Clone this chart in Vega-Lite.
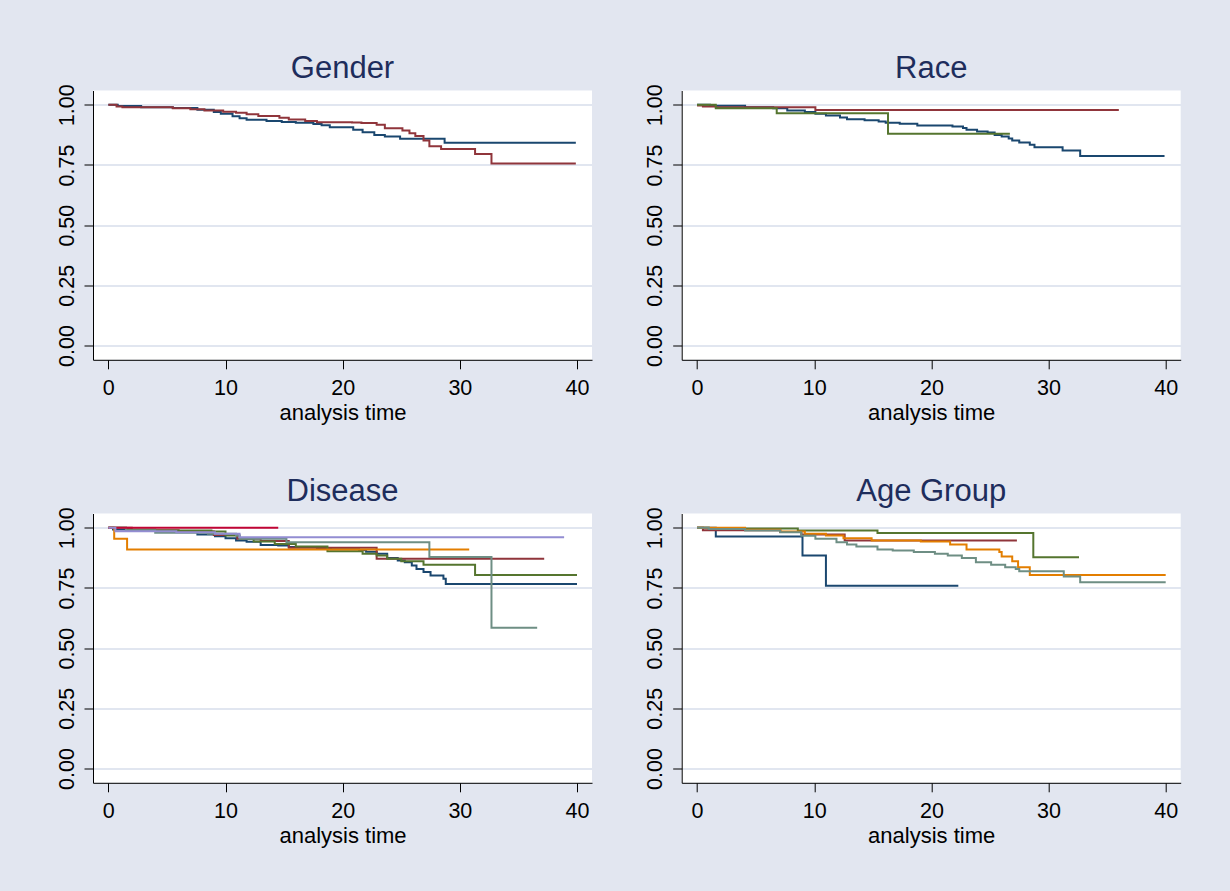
{
  "$schema": "https://vega.github.io/schema/vega-lite/v6.json",
  "background": "#e2e6f0",
  "padding": {"left": 56, "top": 52.5, "right": 55, "bottom": 58},
  "bounds": "flush",
  "columns": 2,
  "spacing": {"row": 153, "column": 89.7},
  "data": {"values": [
    {"p":"Gender","g":1,"t":0,"s":1},{"p":"Gender","g":1,"t":0.8,"s":0.995},{"p":"Gender","g":1,"t":2.8,"s":0.99},{"p":"Gender","g":1,"t":5.5,"s":0.987},{"p":"Gender","g":1,"t":7.6,"s":0.979},{"p":"Gender","g":1,"t":9.0,"s":0.97},{"p":"Gender","g":1,"t":9.6,"s":0.963},{"p":"Gender","g":1,"t":10.6,"s":0.952},{"p":"Gender","g":1,"t":11.2,"s":0.944},{"p":"Gender","g":1,"t":11.8,"s":0.938},{"p":"Gender","g":1,"t":13.5,"s":0.933},{"p":"Gender","g":1,"t":14.8,"s":0.929},{"p":"Gender","g":1,"t":16.0,"s":0.925},{"p":"Gender","g":1,"t":17.5,"s":0.92},{"p":"Gender","g":1,"t":18.2,"s":0.915},{"p":"Gender","g":1,"t":18.9,"s":0.907},{"p":"Gender","g":1,"t":20.9,"s":0.896},{"p":"Gender","g":1,"t":21.7,"s":0.886},{"p":"Gender","g":1,"t":22.7,"s":0.875},{"p":"Gender","g":1,"t":23.6,"s":0.868},{"p":"Gender","g":1,"t":24.9,"s":0.859},{"p":"Gender","g":1,"t":28.7,"s":0.842},{"p":"Gender","g":1,"t":39.9,"s":0.842},
    {"p":"Gender","g":2,"t":0,"s":1},{"p":"Gender","g":2,"t":0.7,"s":0.993},{"p":"Gender","g":2,"t":1.2,"s":0.99},{"p":"Gender","g":2,"t":5.5,"s":0.986},{"p":"Gender","g":2,"t":7.0,"s":0.982},{"p":"Gender","g":2,"t":8.2,"s":0.976},{"p":"Gender","g":2,"t":9.8,"s":0.971},{"p":"Gender","g":2,"t":10.9,"s":0.967},{"p":"Gender","g":2,"t":11.8,"s":0.961},{"p":"Gender","g":2,"t":12.8,"s":0.953},{"p":"Gender","g":2,"t":14.6,"s":0.946},{"p":"Gender","g":2,"t":15.4,"s":0.939},{"p":"Gender","g":2,"t":16.8,"s":0.933},{"p":"Gender","g":2,"t":17.8,"s":0.928},{"p":"Gender","g":2,"t":20.8,"s":0.926},{"p":"Gender","g":2,"t":21.6,"s":0.924},{"p":"Gender","g":2,"t":22.9,"s":0.917},{"p":"Gender","g":2,"t":23.6,"s":0.903},{"p":"Gender","g":2,"t":25.1,"s":0.893},{"p":"Gender","g":2,"t":25.7,"s":0.882},{"p":"Gender","g":2,"t":26.2,"s":0.87},{"p":"Gender","g":2,"t":26.9,"s":0.852},{"p":"Gender","g":2,"t":27.4,"s":0.828},{"p":"Gender","g":2,"t":28.4,"s":0.816},{"p":"Gender","g":2,"t":31.3,"s":0.796},{"p":"Gender","g":2,"t":32.7,"s":0.756},{"p":"Gender","g":2,"t":39.9,"s":0.756},
    {"p":"Race","g":1,"t":0,"s":1},{"p":"Race","g":1,"t":1.1,"s":0.996},{"p":"Race","g":1,"t":4.1,"s":0.99},{"p":"Race","g":1,"t":6.5,"s":0.986},{"p":"Race","g":1,"t":7.7,"s":0.976},{"p":"Race","g":1,"t":9.2,"s":0.97},{"p":"Race","g":1,"t":10.1,"s":0.963},{"p":"Race","g":1,"t":11.0,"s":0.956},{"p":"Race","g":1,"t":12.2,"s":0.947},{"p":"Race","g":1,"t":12.8,"s":0.94},{"p":"Race","g":1,"t":14.3,"s":0.936},{"p":"Race","g":1,"t":15.5,"s":0.931},{"p":"Race","g":1,"t":16.1,"s":0.925},{"p":"Race","g":1,"t":17.3,"s":0.921},{"p":"Race","g":1,"t":18.8,"s":0.914},{"p":"Race","g":1,"t":21.8,"s":0.91},{"p":"Race","g":1,"t":22.7,"s":0.904},{"p":"Race","g":1,"t":23.0,"s":0.896},{"p":"Race","g":1,"t":23.9,"s":0.889},{"p":"Race","g":1,"t":24.8,"s":0.885},{"p":"Race","g":1,"t":25.4,"s":0.875},{"p":"Race","g":1,"t":26.0,"s":0.868},{"p":"Race","g":1,"t":26.6,"s":0.86},{"p":"Race","g":1,"t":26.9,"s":0.852},{"p":"Race","g":1,"t":27.5,"s":0.843},{"p":"Race","g":1,"t":28.4,"s":0.834},{"p":"Race","g":1,"t":28.8,"s":0.824},{"p":"Race","g":1,"t":31.2,"s":0.81},{"p":"Race","g":1,"t":32.7,"s":0.787},{"p":"Race","g":1,"t":39.9,"s":0.787},
    {"p":"Race","g":2,"t":0,"s":0.997},{"p":"Race","g":2,"t":0.5,"s":0.993},{"p":"Race","g":2,"t":1.6,"s":0.99},{"p":"Race","g":2,"t":10.1,"s":0.978},{"p":"Race","g":2,"t":36.0,"s":0.978},
    {"p":"Race","g":3,"t":0,"s":1},{"p":"Race","g":3,"t":1.6,"s":0.986},{"p":"Race","g":3,"t":6.8,"s":0.965},{"p":"Race","g":3,"t":16.3,"s":0.88},{"p":"Race","g":3,"t":26.7,"s":0.88},
    {"p":"Disease","g":1,"t":0,"s":1},{"p":"Disease","g":1,"t":0.4,"s":0.993},{"p":"Disease","g":1,"t":1.9,"s":0.987},{"p":"Disease","g":1,"t":5.2,"s":0.985},{"p":"Disease","g":1,"t":7.6,"s":0.972},{"p":"Disease","g":1,"t":9.1,"s":0.965},{"p":"Disease","g":1,"t":10.0,"s":0.957},{"p":"Disease","g":1,"t":10.9,"s":0.947},{"p":"Disease","g":1,"t":11.8,"s":0.942},{"p":"Disease","g":1,"t":13.0,"s":0.929},{"p":"Disease","g":1,"t":14.5,"s":0.926},{"p":"Disease","g":1,"t":15.4,"s":0.92},{"p":"Disease","g":1,"t":17.8,"s":0.915},{"p":"Disease","g":1,"t":19.0,"s":0.911},{"p":"Disease","g":1,"t":21.4,"s":0.907},{"p":"Disease","g":1,"t":22.0,"s":0.9},{"p":"Disease","g":1,"t":22.9,"s":0.892},{"p":"Disease","g":1,"t":23.8,"s":0.875},{"p":"Disease","g":1,"t":24.7,"s":0.864},{"p":"Disease","g":1,"t":25.3,"s":0.857},{"p":"Disease","g":1,"t":25.9,"s":0.843},{"p":"Disease","g":1,"t":26.3,"s":0.829},{"p":"Disease","g":1,"t":26.9,"s":0.816},{"p":"Disease","g":1,"t":27.5,"s":0.802},{"p":"Disease","g":1,"t":28.6,"s":0.788},{"p":"Disease","g":1,"t":28.8,"s":0.767},{"p":"Disease","g":1,"t":40.0,"s":0.767},
    {"p":"Disease","g":2,"t":0,"s":1},{"p":"Disease","g":2,"t":2,"s":0.99},{"p":"Disease","g":2,"t":6,"s":0.985},{"p":"Disease","g":2,"t":9,"s":0.97},{"p":"Disease","g":2,"t":11,"s":0.955},{"p":"Disease","g":2,"t":13,"s":0.945},{"p":"Disease","g":2,"t":15.4,"s":0.917},{"p":"Disease","g":2,"t":22.9,"s":0.871},{"p":"Disease","g":2,"t":37.2,"s":0.871},
    {"p":"Disease","g":3,"t":0,"s":1},{"p":"Disease","g":3,"t":1.5,"s":0.993},{"p":"Disease","g":3,"t":4,"s":0.989},{"p":"Disease","g":3,"t":8.8,"s":0.985},{"p":"Disease","g":3,"t":10,"s":0.968},{"p":"Disease","g":3,"t":11.2,"s":0.954},{"p":"Disease","g":3,"t":12.4,"s":0.943},{"p":"Disease","g":3,"t":14.2,"s":0.933},{"p":"Disease","g":3,"t":16,"s":0.922},{"p":"Disease","g":3,"t":18.7,"s":0.903},{"p":"Disease","g":3,"t":21.7,"s":0.892},{"p":"Disease","g":3,"t":22.9,"s":0.885},{"p":"Disease","g":3,"t":23.8,"s":0.871},{"p":"Disease","g":3,"t":25,"s":0.861},{"p":"Disease","g":3,"t":26.9,"s":0.846},{"p":"Disease","g":3,"t":31.3,"s":0.804},{"p":"Disease","g":3,"t":40,"s":0.804},
    {"p":"Disease","g":4,"t":0,"s":1},{"p":"Disease","g":4,"t":0.5,"s":0.954},{"p":"Disease","g":4,"t":1.6,"s":0.91},{"p":"Disease","g":4,"t":30.8,"s":0.91},
    {"p":"Disease","g":5,"t":0,"s":1},{"p":"Disease","g":5,"t":1.5,"s":0.99},{"p":"Disease","g":5,"t":4,"s":0.979},{"p":"Disease","g":5,"t":8.5,"s":0.975},{"p":"Disease","g":5,"t":10.9,"s":0.968},{"p":"Disease","g":5,"t":11.2,"s":0.954},{"p":"Disease","g":5,"t":15.2,"s":0.94},{"p":"Disease","g":5,"t":27.4,"s":0.879},{"p":"Disease","g":5,"t":32.7,"s":0.585},{"p":"Disease","g":5,"t":36.6,"s":0.585},
    {"p":"Disease","g":6,"t":0,"s":1},{"p":"Disease","g":6,"t":14.5,"s":1},
    {"p":"Disease","g":7,"t":0,"s":1},{"p":"Disease","g":7,"t":0.6,"s":0.986},{"p":"Disease","g":7,"t":5.8,"s":0.981},{"p":"Disease","g":7,"t":9.1,"s":0.975},{"p":"Disease","g":7,"t":11.2,"s":0.961},{"p":"Disease","g":7,"t":38.9,"s":0.961},
    {"p":"Age Group","g":1,"t":0,"s":1},{"p":"Age Group","g":1,"t":1.6,"s":0.964},{"p":"Age Group","g":1,"t":9.0,"s":0.885},{"p":"Age Group","g":1,"t":11.0,"s":0.759},{"p":"Age Group","g":1,"t":22.3,"s":0.759},
    {"p":"Age Group","g":2,"t":0,"s":1},{"p":"Age Group","g":2,"t":0.5,"s":0.99},{"p":"Age Group","g":2,"t":7.1,"s":0.983},{"p":"Age Group","g":2,"t":8.9,"s":0.972},{"p":"Age Group","g":2,"t":12.6,"s":0.947},{"p":"Age Group","g":2,"t":27.3,"s":0.947},
    {"p":"Age Group","g":3,"t":0,"s":1},{"p":"Age Group","g":3,"t":1.0,"s":0.997},{"p":"Age Group","g":3,"t":8.6,"s":0.989},{"p":"Age Group","g":3,"t":15.4,"s":0.978},{"p":"Age Group","g":3,"t":28.7,"s":0.878},{"p":"Age Group","g":3,"t":32.6,"s":0.878},
    {"p":"Age Group","g":4,"t":0,"s":1},{"p":"Age Group","g":4,"t":4.1,"s":0.992},{"p":"Age Group","g":4,"t":7.1,"s":0.985},{"p":"Age Group","g":4,"t":9.2,"s":0.975},{"p":"Age Group","g":4,"t":11,"s":0.968},{"p":"Age Group","g":4,"t":12.5,"s":0.957},{"p":"Age Group","g":4,"t":14.9,"s":0.947},{"p":"Age Group","g":4,"t":19.1,"s":0.943},{"p":"Age Group","g":4,"t":21.6,"s":0.931},{"p":"Age Group","g":4,"t":23,"s":0.91},{"p":"Age Group","g":4,"t":25.8,"s":0.899},{"p":"Age Group","g":4,"t":26,"s":0.881},{"p":"Age Group","g":4,"t":26.9,"s":0.861},{"p":"Age Group","g":4,"t":27.4,"s":0.836},{"p":"Age Group","g":4,"t":28.4,"s":0.804},{"p":"Age Group","g":4,"t":40,"s":0.804},
    {"p":"Age Group","g":5,"t":0,"s":1},{"p":"Age Group","g":5,"t":1,"s":0.995},{"p":"Age Group","g":5,"t":4.1,"s":0.989},{"p":"Age Group","g":5,"t":7.1,"s":0.981},{"p":"Age Group","g":5,"t":8.9,"s":0.967},{"p":"Age Group","g":5,"t":10.1,"s":0.954},{"p":"Age Group","g":5,"t":11.9,"s":0.94},{"p":"Age Group","g":5,"t":12.8,"s":0.931},{"p":"Age Group","g":5,"t":13.6,"s":0.922},{"p":"Age Group","g":5,"t":15.4,"s":0.91},{"p":"Age Group","g":5,"t":16.7,"s":0.906},{"p":"Age Group","g":5,"t":18.5,"s":0.899},{"p":"Age Group","g":5,"t":20.3,"s":0.892},{"p":"Age Group","g":5,"t":21.4,"s":0.885},{"p":"Age Group","g":5,"t":22.6,"s":0.875},{"p":"Age Group","g":5,"t":23.8,"s":0.857},{"p":"Age Group","g":5,"t":25.1,"s":0.846},{"p":"Age Group","g":5,"t":26.3,"s":0.836},{"p":"Age Group","g":5,"t":27.2,"s":0.829},{"p":"Age Group","g":5,"t":27.5,"s":0.82},{"p":"Age Group","g":5,"t":31.3,"s":0.798},{"p":"Age Group","g":5,"t":32.7,"s":0.774},{"p":"Age Group","g":5,"t":40,"s":0.774}
  ]},
  "concat": [
    {"title": "Gender", "width": 499, "height": 269.3, "transform": [{"filter": "datum.p == 'Gender'"}],
     "mark": {"type": "line", "interpolate": "step-after", "strokeWidth": 2, "clip": true},
     "encoding": {
       "x": {"field": "t", "type": "quantitative", "scale": {"domain": [-1.31, 41.28], "nice": false, "zero": false}, "axis": {"values": [0,10,20,30,40], "title": "analysis time"}},
       "y": {"field": "s", "type": "quantitative", "scale": {"domain": [-0.0594, 1.0594], "nice": false, "zero": false}, "axis": {"values": [0,0.25,0.5,0.75,1], "format": ".2f", "title": null}},
       "color": {"field": "g", "type": "nominal", "scale": {"domain": [1,2,3,4,5,6,7], "range": ["#1a476f","#90353b","#55752f","#e37e00","#6e8e84","#c10534","#938dd2"]}, "legend": null}
     }},
    {"title": "Race", "width": 499, "height": 269.3, "transform": [{"filter": "datum.p == 'Race'"}],
     "mark": {"type": "line", "interpolate": "step-after", "strokeWidth": 2, "clip": true},
     "encoding": {
       "x": {"field": "t", "type": "quantitative", "scale": {"domain": [-1.31, 41.28], "nice": false, "zero": false}, "axis": {"values": [0,10,20,30,40], "title": "analysis time"}},
       "y": {"field": "s", "type": "quantitative", "scale": {"domain": [-0.0594, 1.0594], "nice": false, "zero": false}, "axis": {"values": [0,0.25,0.5,0.75,1], "format": ".2f", "title": null}},
       "color": {"field": "g", "type": "nominal", "scale": {"domain": [1,2,3,4,5,6,7], "range": ["#1a476f","#90353b","#55752f","#e37e00","#6e8e84","#c10534","#938dd2"]}, "legend": null}
     }},
    {"title": "Disease", "width": 499, "height": 269.3, "transform": [{"filter": "datum.p == 'Disease'"}],
     "mark": {"type": "line", "interpolate": "step-after", "strokeWidth": 2, "clip": true},
     "encoding": {
       "x": {"field": "t", "type": "quantitative", "scale": {"domain": [-1.31, 41.28], "nice": false, "zero": false}, "axis": {"values": [0,10,20,30,40], "title": "analysis time"}},
       "y": {"field": "s", "type": "quantitative", "scale": {"domain": [-0.0594, 1.0594], "nice": false, "zero": false}, "axis": {"values": [0,0.25,0.5,0.75,1], "format": ".2f", "title": null}},
       "color": {"field": "g", "type": "nominal", "scale": {"domain": [1,2,3,4,5,6,7], "range": ["#1a476f","#90353b","#55752f","#e37e00","#6e8e84","#c10534","#938dd2"]}, "legend": null}
     }},
    {"title": "Age Group", "width": 499, "height": 269.3, "transform": [{"filter": "datum.p == 'Age Group'"}],
     "mark": {"type": "line", "interpolate": "step-after", "strokeWidth": 2, "clip": true},
     "encoding": {
       "x": {"field": "t", "type": "quantitative", "scale": {"domain": [-1.31, 41.28], "nice": false, "zero": false}, "axis": {"values": [0,10,20,30,40], "title": "analysis time"}},
       "y": {"field": "s", "type": "quantitative", "scale": {"domain": [-0.0594, 1.0594], "nice": false, "zero": false}, "axis": {"values": [0,0.25,0.5,0.75,1], "format": ".2f", "title": null}},
       "color": {"field": "g", "type": "nominal", "scale": {"domain": [1,2,3,4,5,6,7], "range": ["#1a476f","#90353b","#55752f","#e37e00","#6e8e84","#c10534","#938dd2"]}, "legend": null}
     }}
  ],
  "resolve": {"scale": {"color": "shared"}},
  "config": {
    "view": {"fill": "white", "stroke": null},
    "title": {"font": "Liberation Sans", "fontSize": 31, "fontWeight": "normal", "color": "#1e2d5c", "baseline": "alphabetic", "offset": -1.5, "frame": "group", "anchor": "middle"},
    "axis": {"domainColor": "#000000", "domainWidth": 1, "tickColor": "#000000", "tickWidth": 1, "tickSize": 9, "labelFont": "Liberation Sans", "labelFontSize": 21.5, "labelColor": "#000000", "titleFont": "Liberation Sans", "titleFontSize": 22, "titleFontWeight": "normal", "titleColor": "#000000", "grid": false},
    "axisY": {"grid": true, "gridColor": "#e1e6f0", "gridWidth": 2, "labelAngle": -90, "labelAlign": "center", "labelBaseline": "alphabetic", "labelPadding": 11},
    "axisX": {"labelPadding": 9, "titlePadding": 3}
  }
}
